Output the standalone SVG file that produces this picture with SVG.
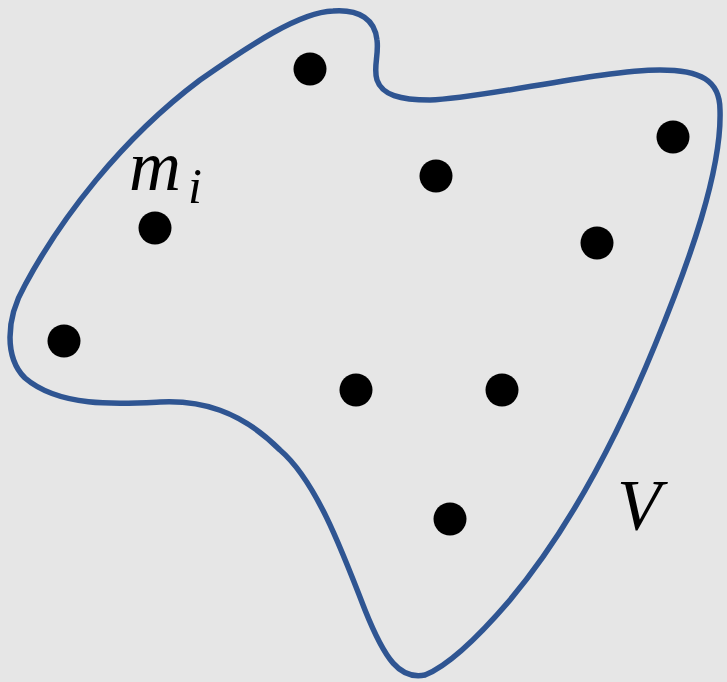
<svg xmlns="http://www.w3.org/2000/svg" width="727" height="682" viewBox="0 0 727 682">
<style>
.dot{fill:#000}
.lbl{font-family:"Liberation Serif","DejaVu Serif",serif;font-style:italic;fill:#000}
</style>
<rect width="727" height="682" fill="#e6e6e6"/>
<path id="region" d="M 333 11 C 360 9, 375 20, 377 40 C 379 55, 373 68, 377 80 C 382 95, 400 100, 430 100 C 480 99, 600 70, 660 70 C 700 70, 720 80, 720 110 C 722 170, 690 260, 655 345 C 610 455, 560 540, 510 600 C 480 635, 450 665, 425 675 C 400 680, 385 660, 365 610 C 340 545, 315 480, 280 450 C 240 410, 200 400, 160 402 C 120 404, 60 408, 25 378 C 5 358, 5 320, 25 285 C 60 220, 120 140, 200 80 C 250 45, 300 12, 333 11 Z" fill="none" stroke="#2f5592" stroke-width="5.5"/>
<g id="points">
<circle class="dot" cx="310" cy="69" r="16.5"/>
<circle class="dot" cx="436" cy="176" r="16.5"/>
<circle class="dot" cx="673" cy="137" r="16.5"/>
<circle class="dot" cx="155" cy="228" r="16.5"/>
<circle class="dot" cx="597" cy="243" r="16.5"/>
<circle class="dot" cx="64" cy="341" r="16.5"/>
<circle class="dot" cx="356" cy="390" r="16.5"/>
<circle class="dot" cx="502" cy="390" r="16.5"/>
<circle class="dot" cx="450" cy="519" r="16.5"/>
</g>
<text class="lbl" x="129" y="190" font-size="72">m</text>
<text class="lbl" x="188" y="203" font-size="50">i</text>
<text class="lbl" x="617" y="529" font-size="72">V</text>
</svg>
